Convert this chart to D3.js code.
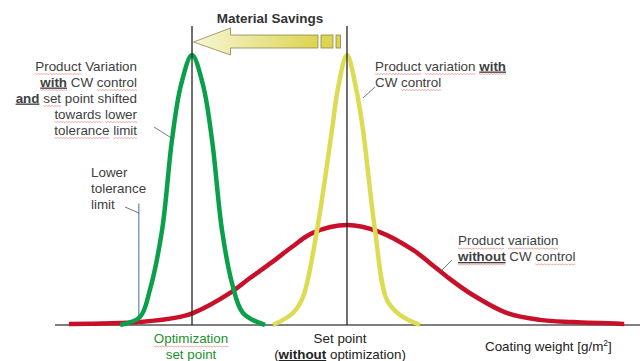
<!DOCTYPE html>
<html lang="en">
<head>
<meta charset="UTF-8">
<title>Coating weight distribution</title>
<script src="https://cdn.jsdelivr.net/npm/d3@7"></script>
<style>
  body { margin: 0; background: #fff; }
  svg text { font-family: "Liberation Sans", Arial, sans-serif; font-size: 13.4px; fill: #404040; }
  .b { font-weight: bold; text-decoration: underline; }
</style>
</head>
<body>
<script>
// coating weight (arbitrary units) and relative frequency
var redX = [2.4, 14.6, 21.5, 23.7, 30.1, 33.5, 37.3, 40.7, 44.3, 50.2, 55.8, 61.5, 64.4, 67.4, 71.8, 77.7, 83.3, 89.0, 97.8]
var redY = [0.4, 1.1, 3.0, 4.4, 11.9, 17.4, 23.3, 28.9, 34.1, 37.0, 34.4, 27.8, 23.0, 17.8, 11.1, 4.4, 1.9, 1.1, 0.4]

var greenX = [11.2, 14.6, 16.3, 18.4, 20.1, 21.65, 23.54, 25.43, 26.98, 28.69, 30.41, 32.3, 36.08]
var greenY = [0, 2.96, 12.96, 35.19, 68.52, 88.89, 100, 88.89, 68.52, 35.19, 15.56, 4.44, 0]

var yellowX = [37.46, 40.89, 42.61, 45.02, 47.59, 48.63, 50.17, 51.72, 52.92, 54.98, 57.04, 59.28, 62.71]
var yellowY = [0, 4.44, 10.37, 35.19, 72.22, 87.78, 100, 87.78, 72.22, 35.19, 9.26, 3.7, 0]

var setPoint = 50.17
var optPoint = 23.54
var lowerTol = 14.4
var guideTop = 110.7
var tolTop = 45

var width = 640
var height = 361

var svg = d3.select("body").append("svg")
    .attr("width", width)
    .attr("height", height)

var x = d3.scaleLinear().domain([0, 100]).range([55, 637])
var y = d3.scaleLinear().domain([0, 100]).range([325, 55])

var defs = svg.append("defs")
var grad = defs.append("linearGradient").attr("id", "arrowFill")
    .attr("x1", "0%").attr("x2", "100%").attr("y1", "0%").attr("y2", "0%")
grad.append("stop").attr("offset", "0%").attr("stop-color", "#f8f6d6")
grad.append("stop").attr("offset", "100%").attr("stop-color", "#dcd452")

// axis
svg.append("line")
    .attr("x1", x(0)).attr("x2", width)
    .attr("y1", y(0)).attr("y2", y(0))
    .attr("stroke", "#555").attr("stroke-width", 1.5)

// lower tolerance limit
svg.append("line")
    .attr("x1", x(lowerTol)).attr("x2", x(lowerTol))
    .attr("y1", y(tolTop)).attr("y2", y(0))
    .attr("stroke", "#7f9cc4").attr("stroke-width", 1.5)

var line = d3.line()
    .x(function(d) { return x(d[0]) })
    .y(function(d) { return y(d[1]) })
    .curve(d3.curveCatmullRom.alpha(0.5))

function draw(xs, ys, color) {
    svg.append("path")
        .datum(d3.zip(xs, ys))
        .attr("d", line)
        .attr("fill", "none")
        .attr("stroke", color)
        .attr("stroke-width", 4.5)
}
draw(redX, redY, "#c8102a")
draw(greenX, greenY, "#0aa04a")
draw(yellowX, yellowY, "#dcdc52")

// set point guides
;[optPoint, setPoint].forEach(function(v) {
    svg.append("line")
        .attr("x1", x(v)).attr("x2", x(v))
        .attr("y1", y(guideTop)).attr("y2", y(0))
        .attr("stroke", "#222").attr("stroke-width", 1.3)
})

// material savings arrow
var tip = x(optPoint) + 1.5, sx = x(setPoint)
var ay = 42
var arrowPts = [[tip, ay], [tip + 37, ay - 14], [tip + 37, ay - 7], [sx - 29, ay - 7],
    [sx - 29, ay + 6], [tip + 37, ay + 6], [tip + 37, ay + 13]]
svg.append("path")
    .attr("d", "M" + arrowPts.join("L") + "Z")
    .attr("fill", "url(#arrowFill)")
    .attr("stroke", "#8a8650").attr("stroke-width", 0.8)
svg.append("rect").attr("x", sx - 26).attr("y", ay - 7).attr("width", 12).attr("height", 13)
    .attr("fill", "#dcd452").attr("stroke", "#8a8650").attr("stroke-width", 0.8)
svg.append("rect").attr("x", sx - 11).attr("y", ay - 7).attr("width", 4.5).attr("height", 13)
    .attr("fill", "#dcd452").attr("stroke", "#8a8650").attr("stroke-width", 0.8)

svg.append("text").attr("x", 270).attr("y", 22.5)
    .attr("text-anchor", "middle")
    .style("font-weight", "bold").style("fill", "#333").style("font-size", "13.5px")
    .text("Material Savings")

// labels: each line is a list of [text, class]
function label(xp, yp, anchor, lines, color) {
    var t = svg.append("text").attr("text-anchor", anchor)
    if (color) t.style("fill", color)
    lines.forEach(function(runs, i) {
        var ln = t.append("tspan").attr("x", xp).attr("y", yp + i * 16)
        runs.forEach(function(r) {
            ln.append("tspan").attr("class", r[1] || null).text(r[0])
        })
    })
}

label(137, 70.5, "end", [
    [["Product", "sq"], [" Variation"]],
    [["with", "b sq"], [" CW "], ["control", "sq"]],
    [["and", "b"], [" "], ["set", "sq"], [" point shifted"]],
    [["towards", "sq"], [" "], ["lower", "sq"]],
    [["tolerance", "sq"], [" "], ["limit", "sq"]]
])
label(375, 70.5, "start", [
    [["Product", "sq"], [" "], ["variation", "sq"], [" "], ["with", "b sq"]],
    [["CW "], ["control", "sq"]]
])
label(91, 177, "start", [
    [["Lower"]],
    [["tolerance"]],
    [["limit"]]
])
label(458, 245, "start", [
    [["Product", "sq"], [" "], ["variation", "sq"]],
    [["without", "b sq"], [" CW "], ["control", "sq"]]
])
label(191, 343, "middle", [
    [["Optimization", "sq"]],
    [["set point"]]
], "#1f8f2f")
label(340, 343, "middle", [
    [["Set point"]],
    [["("], ["without", "b sq"], [" "], ["optimization", "sq"], [")"]]
], "#222")
label(485, 350.5, "start", [
    [["Coating weight [g/m"], ["2", "sup"], ["]", "after"]]
], "#222")

svg.selectAll("tspan.sup").attr("dy", -5).style("font-size", "8.5px")
svg.selectAll("tspan.after").attr("dy", 5)

// spell-check squiggles under flagged words
svg.selectAll("tspan.sq").each(function() {
    var n = this.getNumberOfChars()
    var a = this.getStartPositionOfChar(0)
    var b = this.getEndPositionOfChar(n - 1)
    var yy = a.y + 3
    var d = "M" + a.x + "," + yy
    for (var px = a.x, k = 0; px < b.x; px += 1.5, k++) {
        d += "L" + Math.min(px + 1.5, b.x) + "," + (yy + (k % 2 ? 0 : 1))
    }
    svg.append("path").attr("d", d)
        .attr("fill", "none").attr("stroke", "#e05a5a")
        .attr("stroke-width", 0.7).attr("opacity", 0.75)
})

// leader lines
var leaders = [[154, 127, 173, 139], [375, 87, 363, 98], [125, 207, 139, 213], [452, 260, 439, 273]]
leaders.forEach(function(l) {
    svg.append("line")
        .attr("x1", l[0]).attr("y1", l[1]).attr("x2", l[2]).attr("y2", l[3])
        .attr("stroke", "#555").attr("stroke-width", 0.8)
})
</script>
</body>
</html>
